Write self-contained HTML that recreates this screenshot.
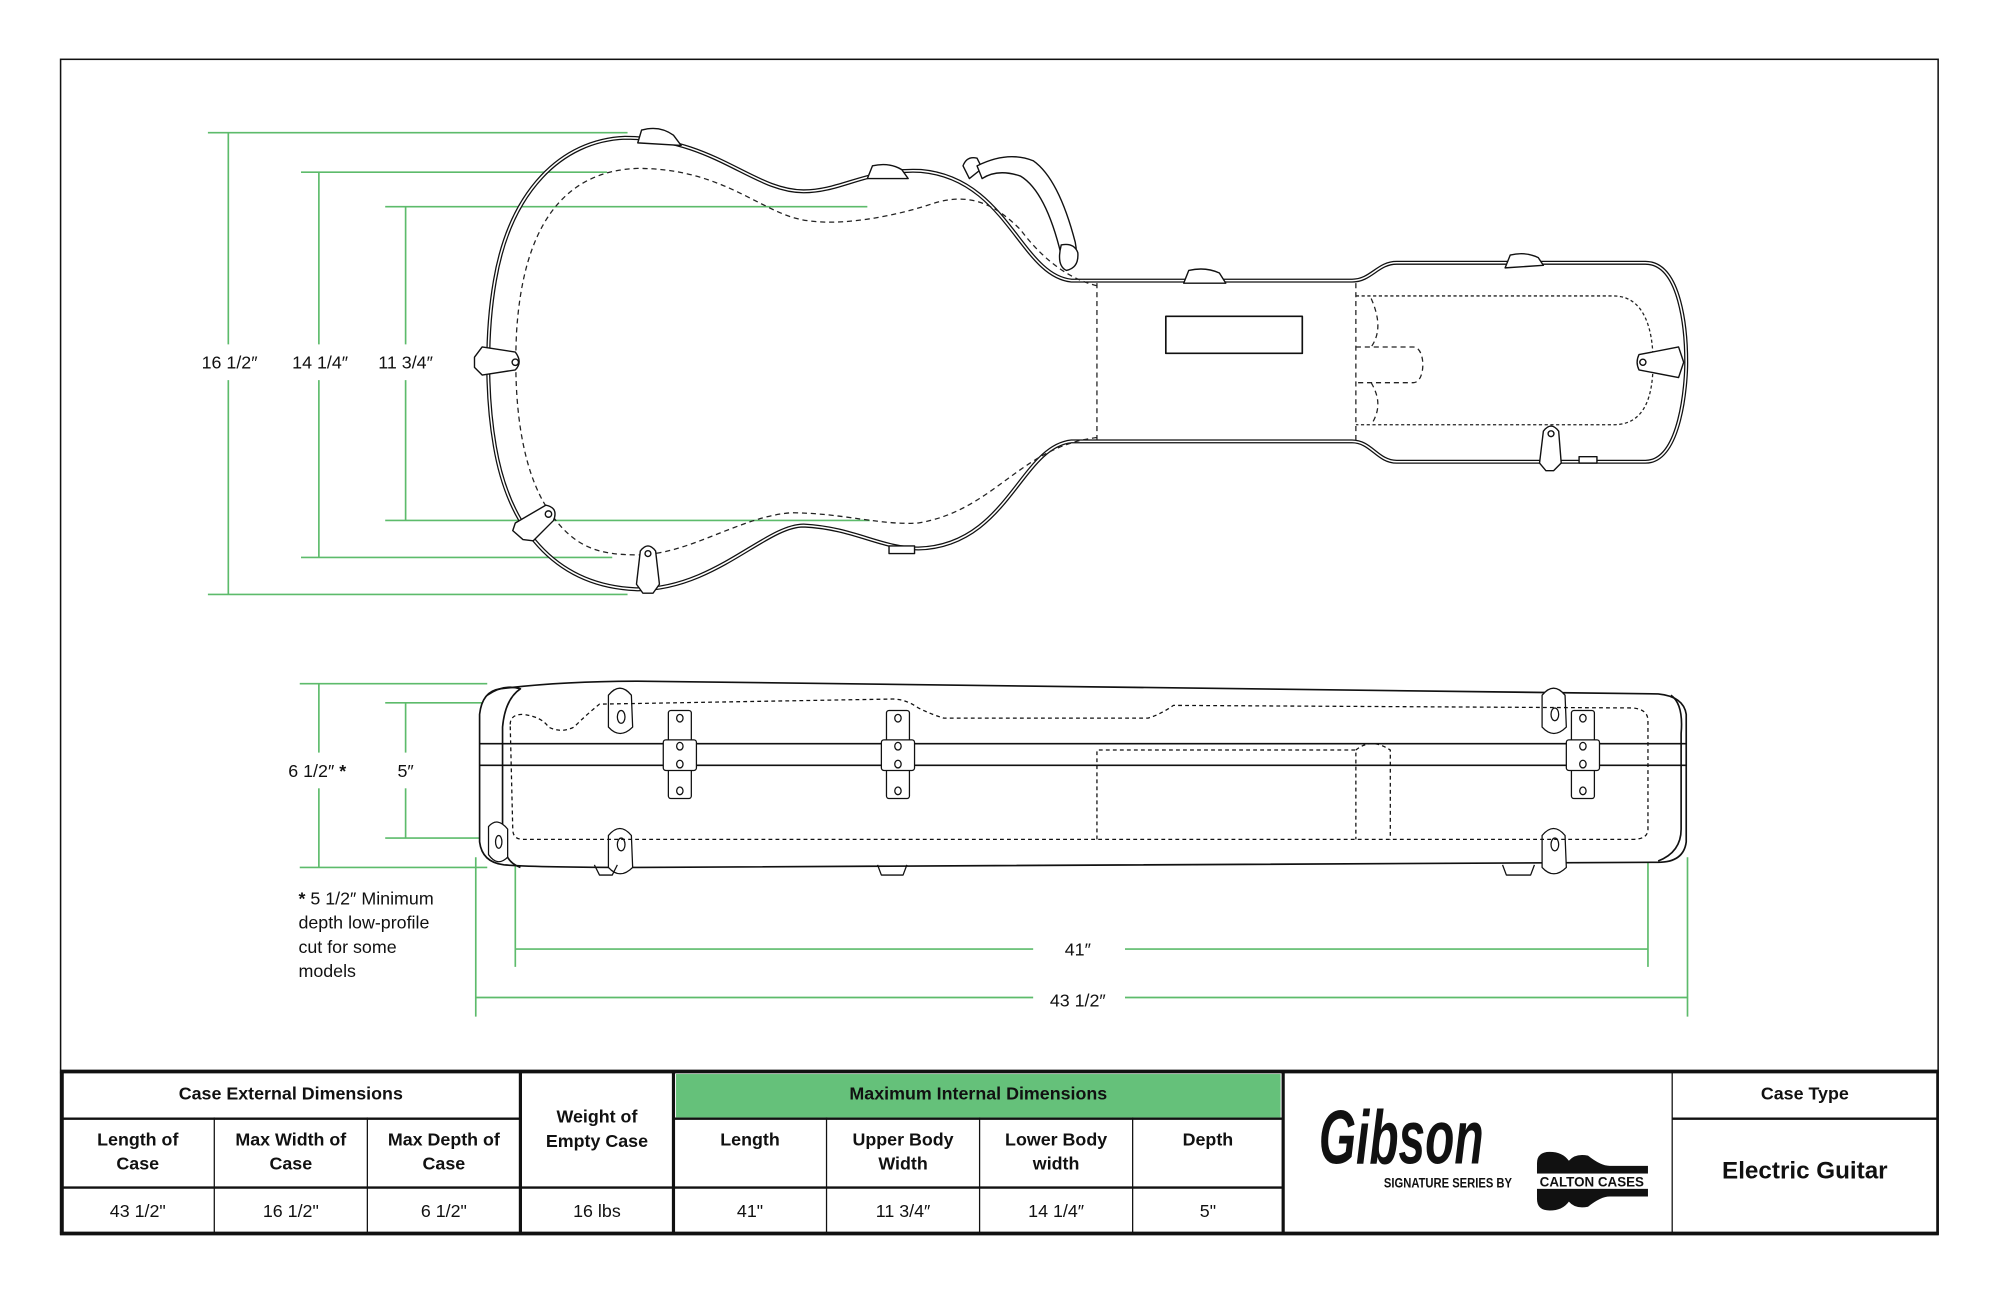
<!DOCTYPE html>
<html><head><meta charset="utf-8"><style>
html,body{margin:0;padding:0;background:#fff;}
svg{display:block;}
text{font-family:"Liberation Sans",Arial,sans-serif;fill:#111;}
</style></head><body>
<svg width="2000" height="1296" viewBox="0 0 1568 1016" preserveAspectRatio="none" xmlns="http://www.w3.org/2000/svg">
<rect x="0" y="0" width="1568" height="1016" fill="#fff"/>
<rect x="47.5" y="46.5" width="1472" height="921" fill="none" stroke="#111" stroke-width="1.2"/>

<g stroke="#5dbb6b" stroke-width="1.3" fill="none">
<line x1="163" y1="104" x2="492" y2="104"/><line x1="163" y1="466" x2="492" y2="466"/>
<line x1="179" y1="104" x2="179" y2="270"/><line x1="179" y1="298" x2="179" y2="466"/>
<line x1="236" y1="135" x2="476" y2="135"/><line x1="236" y1="437" x2="480" y2="437"/>
<line x1="250" y1="135" x2="250" y2="270"/><line x1="250" y1="298" x2="250" y2="437"/>
<line x1="302" y1="162" x2="680" y2="162"/><line x1="302" y1="408" x2="682" y2="408"/>
<line x1="318" y1="162" x2="318" y2="270"/><line x1="318" y1="298" x2="318" y2="408"/>
<line x1="235" y1="536" x2="382" y2="536"/><line x1="235" y1="680" x2="382" y2="680"/>
<line x1="250" y1="536" x2="250" y2="590"/><line x1="250" y1="618" x2="250" y2="680"/>
<line x1="302" y1="551" x2="390" y2="551"/><line x1="302" y1="657" x2="392" y2="657"/>
<line x1="318" y1="551" x2="318" y2="590"/><line x1="318" y1="618" x2="318" y2="657"/>
<line x1="404" y1="665" x2="404" y2="758"/><line x1="1292" y1="665" x2="1292" y2="758"/>
<line x1="404" y1="744" x2="810" y2="744"/><line x1="882" y1="744" x2="1292" y2="744"/>
<line x1="373" y1="672" x2="373" y2="797"/><line x1="1323" y1="672" x2="1323" y2="797"/>
<line x1="373" y1="782" x2="810" y2="782"/><line x1="882" y1="782" x2="1323" y2="782"/>
</g>
<g font-size="14">
<text x="180" y="289" text-anchor="middle">16 1/2″</text>
<text x="251" y="289" text-anchor="middle">14 1/4″</text>
<text x="318" y="289" text-anchor="middle">11 3/4″</text>
<text x="226" y="609">6 1/2″ <tspan font-weight="bold">*</tspan></text>
<text x="318" y="609" text-anchor="middle">5″</text>
<text x="845" y="749" text-anchor="middle">41″</text>
<text x="845" y="789" text-anchor="middle">43 1/2″</text>
<text x="234" y="709"><tspan font-weight="bold">*</tspan> 5 1/2″ Minimum</text>
<text x="234" y="728">depth low-profile</text>
<text x="234" y="747">cut for some</text>
<text x="234" y="766">models</text>
</g>

<g fill="none" stroke-linejoin="round">
<path d="M490 108 C440 110 400 150 388 220 C381 260 381 310 388 350 C400 420 440 460 500 462 C560 462 600 412 630 412 C670 414 690 430 720 430 C790 428 800 350 840 346 L1060 346 C1075 346 1080 362 1095 362 L1290 362 C1318 362 1322 300 1322 284 C1322 260 1318 206 1290 206 L1095 206 C1080 206 1075 220 1060 220 L840 220 C800 216 790 140 722 134 C680 132 660 150 630 150 C590 150 560 108 490 108 Z" stroke="#111" stroke-width="3.2"/>
<path d="M490 108 C440 110 400 150 388 220 C381 260 381 310 388 350 C400 420 440 460 500 462 C560 462 600 412 630 412 C670 414 690 430 720 430 C790 428 800 350 840 346 L1060 346 C1075 346 1080 362 1095 362 L1290 362 C1318 362 1322 300 1322 284 C1322 260 1318 206 1290 206 L1095 206 C1080 206 1075 220 1060 220 L840 220 C800 216 790 140 722 134 C680 132 660 150 630 150 C590 150 560 108 490 108 Z" stroke="#fff" stroke-width="1.2"/>
<path d="M860 224 C835 218 815 200 800 180 C780 160 760 150 730 160 C700 170 650 180 620 170 C590 160 560 132 500 132 C440 134 410 180 405 260 C402 320 410 370 430 400 C450 430 470 435 500 435 C540 435 580 405 620 402 C660 402 690 412 720 410 C780 400 800 350 860 343" stroke="#222" stroke-width="1" stroke-dasharray="4 3"/>
<line x1="860" y1="222" x2="860" y2="345" stroke="#222" stroke-width="1" stroke-dasharray="4 3"/>
<line x1="1063" y1="222" x2="1063" y2="345" stroke="#222" stroke-width="1" stroke-dasharray="4 3"/>
<path d="M1063 232 L1265 232 C1290 232 1296 260 1296 284 C1296 310 1290 333 1265 333 L1063 333" stroke="#222" stroke-width="1" stroke-dasharray="2.5 2"/>
<path d="M1075 234 C1082 250 1082 262 1075 272 M1063 272 L1108 272 C1118 272 1118 300 1108 300 L1063 300 M1075 300 C1082 312 1082 322 1075 333" stroke="#222" stroke-width="1" stroke-dasharray="4 3"/>
<rect x="914" y="248" width="107" height="29" stroke="#111" stroke-width="1.3"/>
<g stroke="#111" stroke-width="1.1" fill="#fff">
<path d="M500 112 L503 102 Q517 98 528 106 L534 114 Z"/>
<path d="M680 140 L684 130 Q697 127 707 133 L712 140 Z"/>
<path d="M928 222 L932 212 Q945 209 956 214 L961 222 Z"/>
<path d="M1180 210 L1184 200 Q1196 197 1206 202 L1210 208 Z"/>
<path d="M372 280 L378 272 L404 276 Q410 284 404 290 L378 294 L372 288 Z"/>
<circle cx="404" cy="284" r="2.5"/>
<path d="M1285 278 L1316 272 L1320 284 L1316 296 L1285 290 Q1282 284 1285 278 Z"/><circle cx="1288" cy="284" r="2.4"/>
<path d="M404 410 L428 396 Q438 398 434 408 L418 424 L410 423 L402 416 Z"/><circle cx="430" cy="403" r="2.5"/>
<path d="M502 432 Q508 424 514 432 L517 458 L512 465 L504 465 L499 458 Z"/><circle cx="508" cy="434" r="2.3"/>
<path d="M1210 338 Q1216 330 1222 338 L1224 363 L1218 369 L1212 369 L1207 363 Z"/><circle cx="1216" cy="340" r="2.3"/>
<rect x="697" y="428" width="20" height="6"/>
<rect x="1238" y="358" width="14" height="5"/>
<path d="M755 130 Q758 122 766 124 L770 132 L760 140 Z"/>
<path d="M766 130 Q790 118 810 126 Q830 140 843 190 Q846 205 838 210 L832 200 Q820 150 800 138 Q782 132 770 140 Z"/>
<path d="M832 192 Q842 190 845 198 Q846 210 836 212 Q828 208 832 192 Z"/>
</g>
</g>

<g fill="none" stroke="#111" stroke-width="1.3" stroke-linejoin="round">
<path d="M392 540 Q440 534 500 534 L1300 544 Q1320 546 1322 560 L1322 660 Q1320 676 1300 676 L500 680 Q420 680 395 678 Q378 676 376 660 L376 560 Q378 542 392 540 Z" fill="#fff"/>
<line x1="376" y1="583" x2="1322" y2="583"/><line x1="376" y1="600" x2="1322" y2="600"/>
<path d="M382 545 Q395 536 408 540 Q396 548 394 570 L394 660 Q396 676 408 680"/>
<path d="M1310 545 Q1320 552 1318 575 L1318 650 Q1318 668 1300 675"/>
<g stroke-width="1">
<path d="M477 545 Q486 534 495 545 L496 570 Q486 580 477 570 Z" fill="#fff"/><ellipse cx="487" cy="562" rx="3" ry="5"/>
<path d="M477 655 Q486 644 495 655 L496 680 Q486 690 477 680 Z" fill="#fff"/><ellipse cx="487" cy="662" rx="3" ry="5"/>
<path d="M1209 545 Q1218 534 1227 545 L1228 570 Q1218 580 1209 570 Z" fill="#fff"/><ellipse cx="1219" cy="560" rx="3" ry="5"/>
<path d="M1209 655 Q1218 644 1227 655 L1228 680 Q1218 690 1209 680 Z" fill="#fff"/><ellipse cx="1219" cy="662" rx="3" ry="5"/>
<path d="M383 648 Q390 640 398 650 L398 672 Q390 680 383 670 Z" fill="#fff"/><ellipse cx="391" cy="660" rx="2.5" ry="5"/>
<path d="M466 678 L470 686 L480 686 L484 678"/><path d="M688 678 L691 686 L708 686 L711 678"/><path d="M1178 678 L1181 686 L1200 686 L1203 678"/>
</g>
<g stroke-width="1" fill="#fff">
<rect x="524" y="557" width="18" height="69" rx="2"/><rect x="520" y="580" width="26" height="24" rx="2"/>
<ellipse cx="533" cy="563" rx="2.5" ry="3"/><ellipse cx="533" cy="585" rx="2.5" ry="3"/><ellipse cx="533" cy="599" rx="2.5" ry="3"/><ellipse cx="533" cy="620" rx="2.5" ry="3"/>
<rect x="695" y="557" width="18" height="69" rx="2"/><rect x="691" y="580" width="26" height="24" rx="2"/>
<ellipse cx="704" cy="563" rx="2.5" ry="3"/><ellipse cx="704" cy="585" rx="2.5" ry="3"/><ellipse cx="704" cy="599" rx="2.5" ry="3"/><ellipse cx="704" cy="620" rx="2.5" ry="3"/>
<rect x="1232" y="557" width="18" height="69" rx="2"/><rect x="1228" y="580" width="26" height="24" rx="2"/>
<ellipse cx="1241" cy="563" rx="2.5" ry="3"/><ellipse cx="1241" cy="585" rx="2.5" ry="3"/><ellipse cx="1241" cy="599" rx="2.5" ry="3"/><ellipse cx="1241" cy="620" rx="2.5" ry="3"/>
</g>
<g stroke-width="1" stroke-dasharray="3 2.5">
<path d="M400 568 Q400 560 410 560 Q425 562 430 570 Q440 575 450 570 Q460 560 470 552 L700 548 Q710 548 720 555 Q730 560 740 563 L900 563 Q910 560 920 553 L1280 555 Q1292 556 1292 565 L1292 650 Q1292 658 1280 658 L410 658 Q402 658 402 650 Z"/>
<path d="M860 658 L860 588 L1063 588 L1063 658 M1063 588 Q1075 578 1090 588 L1090 658"/>
</g>
</g>

<rect x="530" y="842" width="474" height="34" fill="#65c17a"/>
<g stroke="#111" fill="none">
<line x1="47" y1="840" x2="1520" y2="840" stroke-width="3"/>
<line x1="47" y1="967" x2="1520" y2="967" stroke-width="3"/>
<line x1="48.5" y1="840" x2="48.5" y2="967" stroke-width="3"/>
<line x1="1519" y1="840" x2="1519" y2="967" stroke-width="2"/>
<line x1="408" y1="840" x2="408" y2="967" stroke-width="2.5"/>
<line x1="528" y1="840" x2="528" y2="967" stroke-width="2.5"/>
<line x1="1006" y1="840" x2="1006" y2="967" stroke-width="2.5"/>
<line x1="1311" y1="840" x2="1311" y2="967" stroke-width="1"/>
<g stroke-width="1"><line x1="168" y1="876" x2="168" y2="967"/><line x1="288" y1="876" x2="288" y2="967"/>
<line x1="648" y1="876" x2="648" y2="967"/><line x1="768" y1="876" x2="768" y2="967"/><line x1="888" y1="876" x2="888" y2="967"/></g>
<g stroke-width="1.8"><line x1="48" y1="877" x2="408" y2="877"/><line x1="528" y1="877" x2="1006" y2="877"/><line x1="1311" y1="877" x2="1519" y2="877"/>
<line x1="48" y1="931" x2="1006" y2="931"/></g>
</g>
<g font-size="14" text-anchor="middle">
<text x="228" y="862" font-weight="bold">Case External Dimensions</text>
<text x="767" y="862" font-weight="bold">Maximum Internal Dimensions</text>
<text x="1415" y="862" font-weight="bold">Case Type</text>
<text x="108" y="898" font-weight="bold">Length of</text><text x="108" y="917" font-weight="bold">Case</text>
<text x="228" y="898" font-weight="bold">Max Width of</text><text x="228" y="917" font-weight="bold">Case</text>
<text x="348" y="898" font-weight="bold">Max Depth of</text><text x="348" y="917" font-weight="bold">Case</text>
<text x="468" y="880" font-weight="bold">Weight of</text><text x="468" y="899" font-weight="bold">Empty Case</text>
<text x="588" y="898" font-weight="bold">Length</text>
<text x="708" y="898" font-weight="bold">Upper Body</text><text x="708" y="917" font-weight="bold">Width</text>
<text x="828" y="898" font-weight="bold">Lower Body</text><text x="828" y="917" font-weight="bold">width</text>
<text x="947" y="898" font-weight="bold">Depth</text>
<text x="108" y="954">43 1/2"</text><text x="228" y="954">16 1/2"</text><text x="348" y="954">6 1/2"</text>
<text x="468" y="954">16 lbs</text><text x="588" y="954">41"</text><text x="708" y="954">11 3/4″</text>
<text x="828" y="954">14 1/4″</text><text x="947" y="954">5"</text>
<text x="1415" y="924" font-size="19" font-weight="bold">Electric Guitar</text>
</g>
<text x="1034" y="912" font-family="Liberation Serif,serif" font-style="italic" font-weight="bold" font-size="50" transform="translate(1034 912) scale(0.75 1.2) translate(-1034 -912)">Gibson</text>
<text x="1085" y="931" font-size="11" font-weight="bold" transform="translate(1085 931) scale(0.8 1) translate(-1085 -931)">SIGNATURE SERIES BY</text>
<path d="M1205 912 Q1205 903 1215 903 Q1225 903 1230 910 Q1235 904 1245 906 Q1255 914 1262 914 L1292 914 L1292 938 L1262 938 Q1255 938 1245 946 Q1235 948 1230 942 Q1225 949 1215 949 Q1205 949 1205 940 Z" fill="#111"/>
<rect x="1204" y="920" width="89" height="12" fill="#fff"/>
<text x="1248" y="930" font-size="10.5" font-weight="bold" text-anchor="middle">CALTON CASES</text>
</svg>
</body></html>
